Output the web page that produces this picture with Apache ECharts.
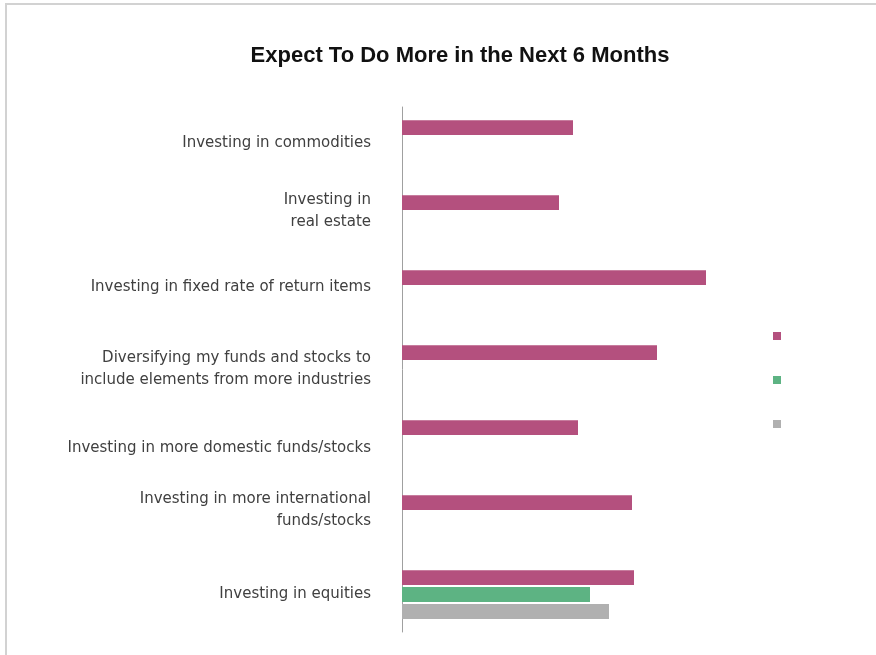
<!DOCTYPE html>
<html>
<head>
<meta charset="utf-8">
<style>
  html, body { margin: 0; padding: 0; background: #ffffff; }
  #chart { width: 876px; height: 655px; }
</style>
<script src="https://cdn.jsdelivr.net/npm/echarts@6/dist/echarts.min.js"></script>
</head>
<body>
<div id="chart"></div>
<script>
// Survey categories, listed top to bottom
const categories = [
  'Investing in commodities',
  'Investing in\nreal estate',
  'Investing in fixed rate of return items',
  'Diversifying my funds and stocks to\ninclude elements from more industries',
  'Investing in more domestic funds/stocks',
  'Investing in more international\nfunds/stocks',
  'Investing in equities'
];

// Share of respondents (%) per series; only equities has all three
const seriesA = [34.2, 31.4, 60.8, 51.0, 35.2, 46.0, 46.4];
const seriesB = [null, null, null, null, null, null, 37.6];
const seriesC = [null, null, null, null, null, null, 41.4];

const seriesNames = ['Series 1', 'Series 2', 'Series 3'];
const seriesColors = ['#b4507e', '#5db383', '#b0b0b0'];
const seriesValues = [seriesA, seriesB, seriesC];

// Vertical nudge (px, negative = up) for each category label
const labelNudge = [-1, -8, -7, 0, 4, -9, 0];

const labelFont = {
  fontFamily: 'DejaVu Sans, sans-serif',
  fontSize: 15,
  lineHeight: 22,
  color: '#404040'
};

// Rich styles: text lines use "a"; a blank spacer line ("g<i>") is added
// below (to lift) or above (to lower) a label so the centred block moves.
const rich = { a: Object.assign({}, labelFont) };
labelNudge.forEach((s, i) => {
  if (s !== 0) {
    rich['g' + i] = { fontSize: 1, lineHeight: Math.abs(2 * s), color: 'transparent' };
  }
});

function formatLabel(value, index) {
  const lines = value.split('\n').map(line => '{a|' + line + '}');
  const s = labelNudge[index] || 0;
  const spacer = '{g' + index + '| }';
  if (s < 0) lines.push(spacer);
  if (s > 0) lines.unshift(spacer);
  return lines.join('\n');
}

const chart = echarts.init(document.getElementById('chart'), null, { renderer: 'canvas' });

const option = {
  backgroundColor: '#ffffff',
  animation: false,
  title: {
    text: 'Expect To Do More in the Next 6 Months',
    left: 455,
    textAlign: 'center',
    top: 40,
    textStyle: {
      fontFamily: 'Liberation Sans, Arial, sans-serif',
      fontWeight: 'bold',
      fontSize: 22,
      color: '#111111'
    }
  },
  legend: {
    orient: 'vertical',
    left: 768,
    top: 327,
    itemWidth: 8,
    itemHeight: 8,
    itemGap: 36,
    icon: 'rect',
    formatter: () => '',
    textStyle: { fontSize: 8, lineHeight: 8, padding: 0 },
    data: seriesNames
  },
  graphic: [{
    type: 'rect',
    silent: true,
    z: -1,
    shape: { x: 6, y: 4, width: 900, height: 700 },
    style: { fill: 'none', stroke: '#d2d2d2', lineWidth: 2 }
  }],
  grid: {
    left: 402,
    top: 107,
    width: 350,
    height: 525,
    containLabel: false
  },
  xAxis: {
    type: 'value',
    min: 0,
    max: 70,
    show: false,
    splitLine: { show: false }
  },
  yAxis: {
    type: 'category',
    inverse: true,
    data: categories,
    axisLine: { show: true, lineStyle: { color: '#a0a0a0', width: 1 } },
    axisTick: { show: false },
    splitLine: { show: false },
    axisLabel: Object.assign({
      margin: 31,
      align: 'right',
      formatter: formatLabel,
      rich: rich
    }, labelFont)
  },
  series: seriesValues.map((vals, i) => ({
    name: seriesNames[i],
    type: 'bar',
    data: vals,
    barGap: '13%',
    barCategoryGap: '35%',
    itemStyle: { color: seriesColors[i] }
  }))
};

chart.setOption(option);
</script>
</body>
</html>
